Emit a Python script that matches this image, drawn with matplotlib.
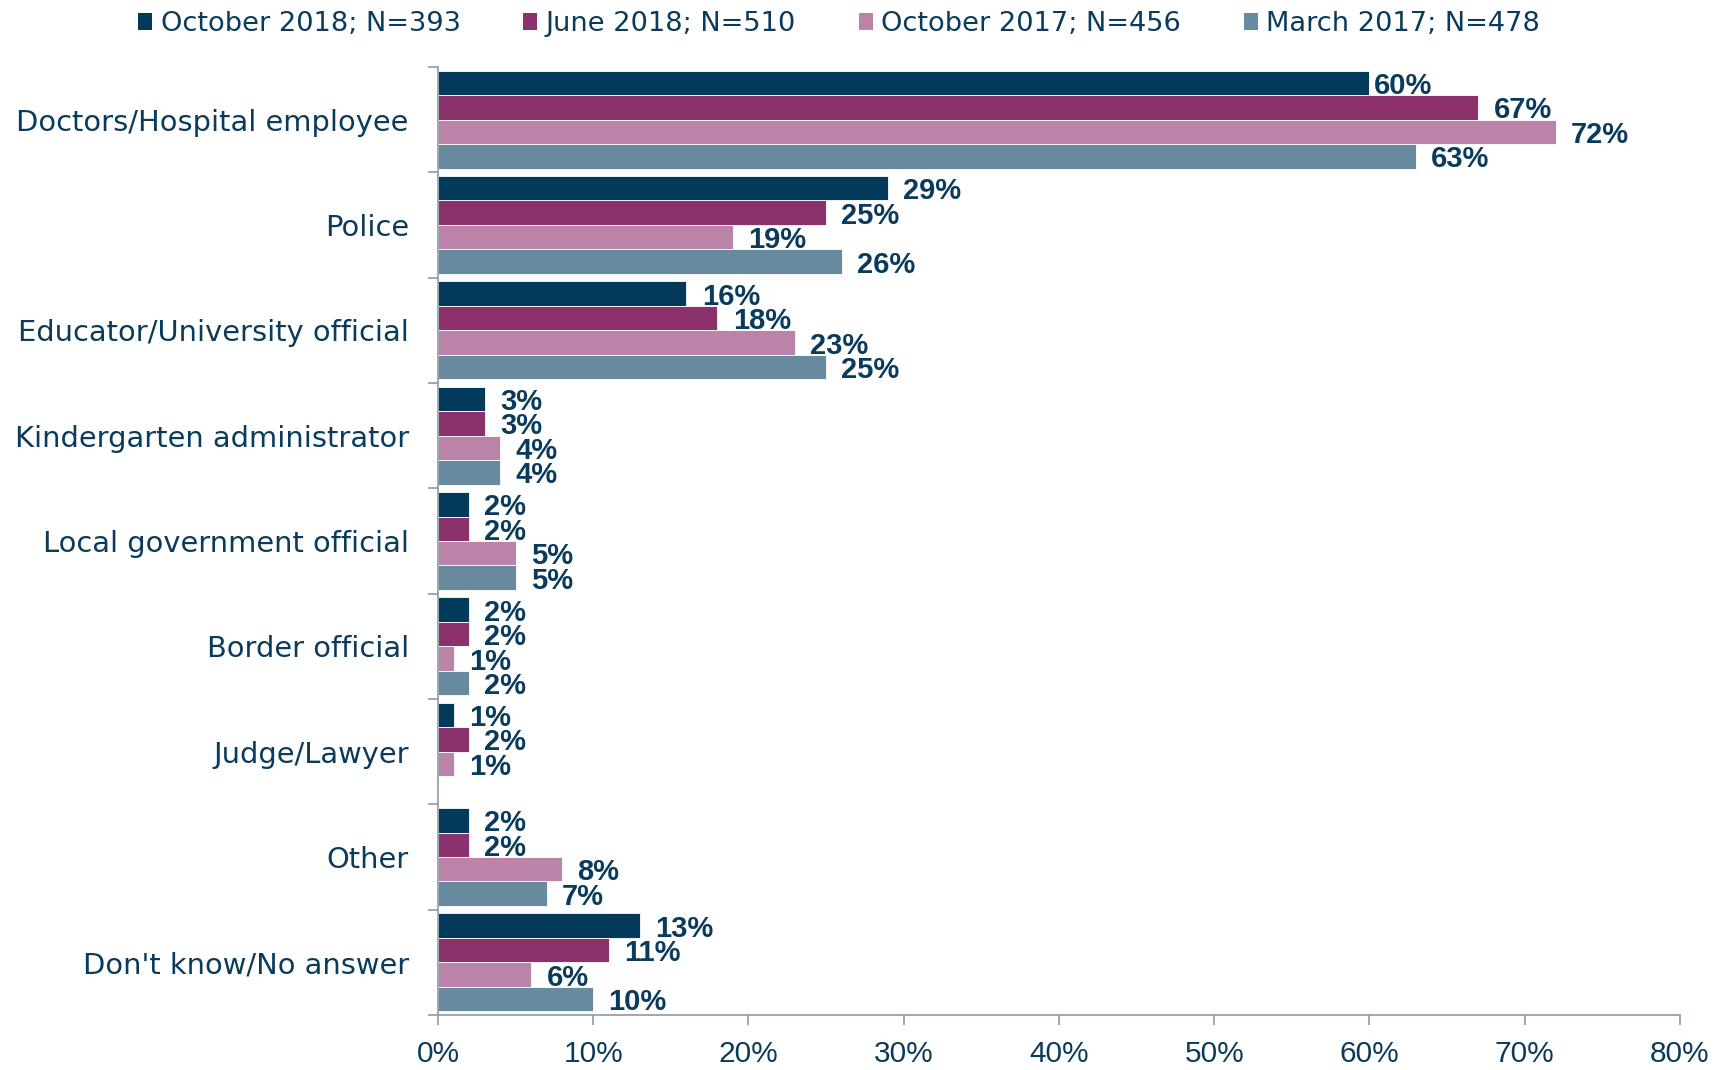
import matplotlib.pyplot as plt
import numpy as np
from matplotlib.patches import Patch

plt.rcParams["font.family"] = "DejaVu Sans"

categories = [
    "Doctors/Hospital employee",
    "Police",
    "Educator/University official",
    "Kindergarten administrator",
    "Local government official",
    "Border official",
    "Judge/Lawyer",
    "Other",
    "Don't know/No answer",
]
series_names = [
    "October 2018; N=393",
    "June 2018; N=510",
    "October 2017; N=456",
    "March 2017; N=478",
]
oct_2018 = [60, 29, 16, 3, 2, 2, 1, 2, 13]
jun_2018 = [67, 25, 18, 3, 2, 2, 2, 2, 11]
oct_2017 = [72, 19, 23, 4, 5, 1, 1, 8, 6]
mar_2017 = [63, 26, 25, 4, 5, 2, None, 7, 10]
x_ticks = [0, 10, 20, 30, 40, 50, 60, 70, 80]

colors = ["#023A5B", "#8B316B", "#BB83A8", "#688A9E"]
text_color = "#0A3B5C"
axis_color = "#8E99A6"
num_font = ["Liberation Sans Narrow", "Liberation Sans"]

fig = plt.figure(figsize=(17.23, 10.70), dpi=100)
ax = fig.add_axes([0.2542, 0.0514, 0.7208, 0.8860])

series = [oct_2018, jun_2018, oct_2017, mar_2017]
n = len(series)
group = 0.93
bar_h = group / n
y = np.arange(len(categories))

for j, (vals, col) in enumerate(zip(series, colors)):
    offs = -group / 2 + (j + 0.5) * bar_h
    for i, v in enumerate(vals):
        if v is None:
            continue
        ax.barh(y[i] + offs, v, height=bar_h, color=col,
                edgecolor="white", linewidth=0.6)
        # Excel squeezed the top label against its bar
        pad = 3 if (i, j) == (0, 0) else 11
        ax.annotate(f"{v}%", xy=(v, y[i] + offs), xytext=(pad, 0),
                    textcoords="offset points", ha="left",
                    va="center_baseline", fontsize=21, fontweight="bold",
                    color=text_color, family=num_font)

ax.set_xlim(0, 80)
ax.set_ylim(len(categories) - 0.5, -0.5)
ax.set_xticks(x_ticks)
ax.set_xticklabels([f"{t}%" for t in x_ticks], family=num_font,
                   fontsize=21.5, color=text_color)
ax.tick_params(axis="x", length=7, width=1.2, color=axis_color, pad=11)

ax.set_yticks(y)
ax.set_yticklabels(categories, fontsize=20.8, color=text_color)
ax.tick_params(axis="y", which="major", length=0, pad=21)
ax.set_yticks(np.arange(len(categories) + 1) - 0.5, minor=True)
ax.tick_params(axis="y", which="minor", length=7, width=1.2, color=axis_color)

for side in ["top", "right"]:
    ax.spines[side].set_visible(False)
for side in ["left", "bottom"]:
    ax.spines[side].set_color(axis_color)
    ax.spines[side].set_linewidth(1.2)

handles = [Patch(facecolor=c, edgecolor="none", label=s)
           for c, s in zip(colors, series_names)]
leg = fig.legend(handles=handles, loc="center", ncol=4,
                 bbox_to_anchor=(0.487, 1 - 24 / 1070), frameon=False,
                 fontsize=19.6, handlelength=0.52, handleheight=0.55,
                 handletextpad=0.31, columnspacing=2.3, borderpad=0)
for t in leg.get_texts():
    t.set_color(text_color)

fig.savefig("out.png", dpi=100)
